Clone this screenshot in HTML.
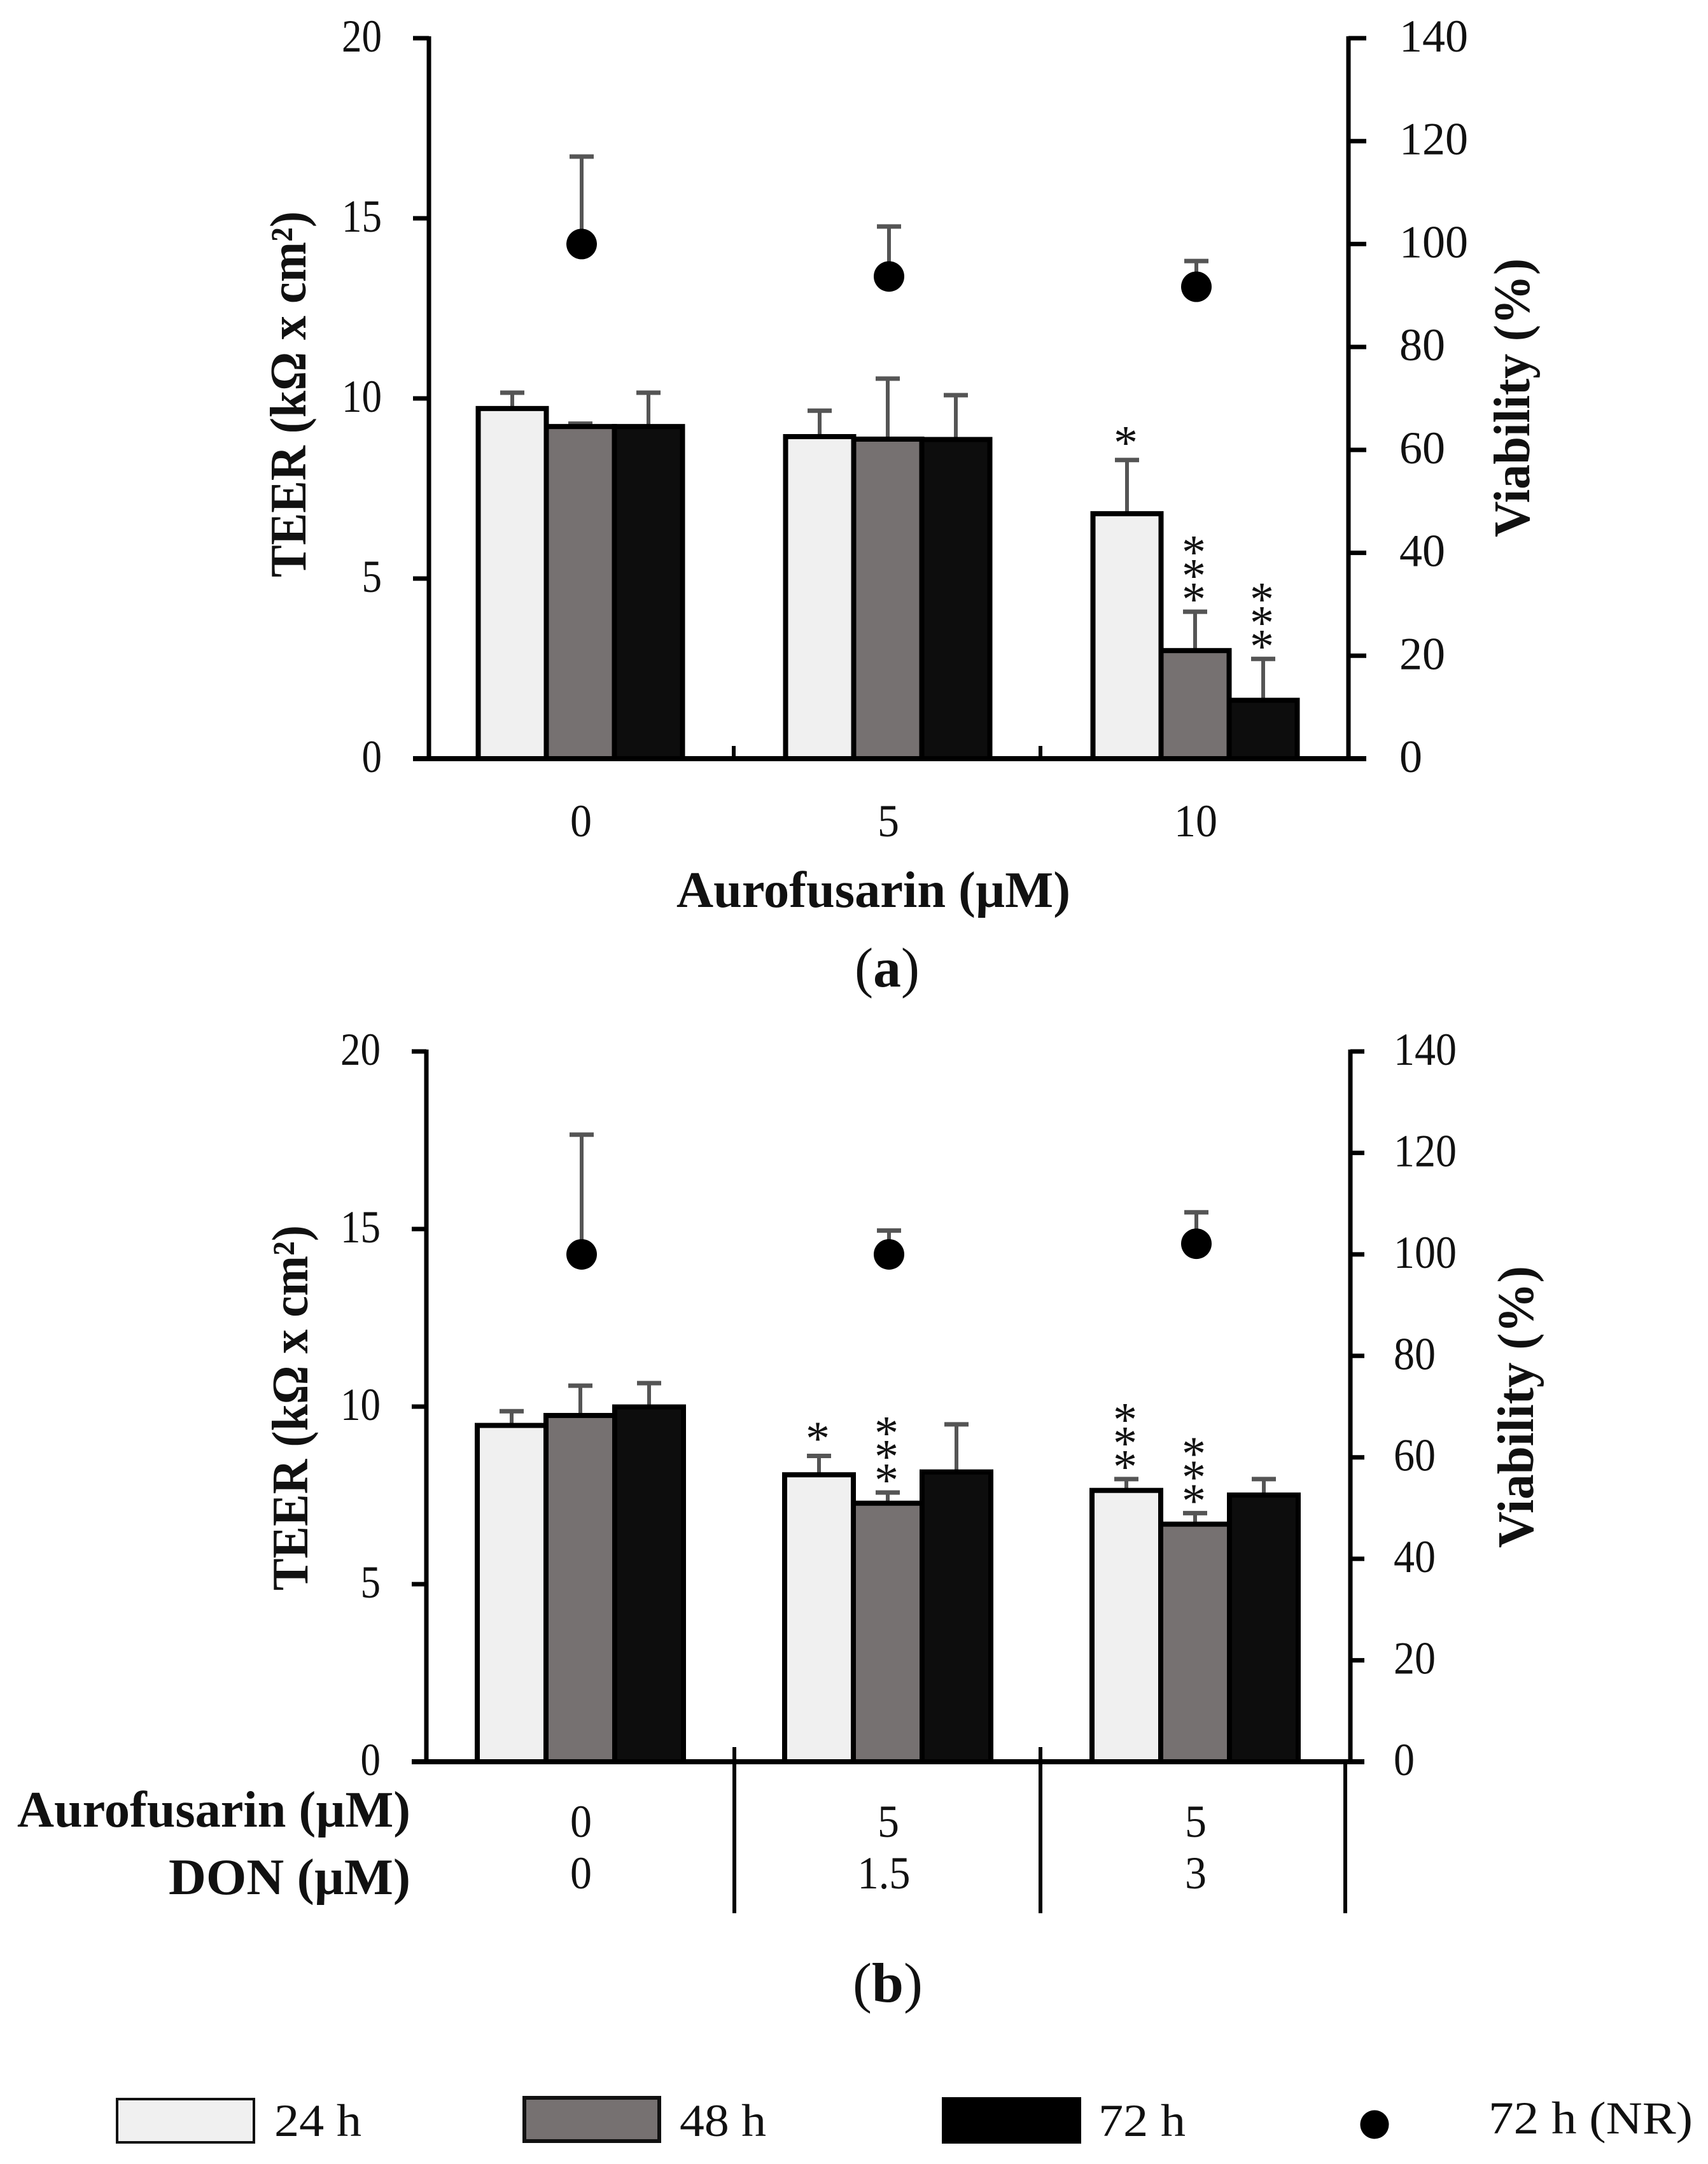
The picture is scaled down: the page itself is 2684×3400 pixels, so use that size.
<!DOCTYPE html>
<html lang="en">
<head>
<meta charset="utf-8">
<title>TEER and viability charts</title>
<style>
html,body{margin:0;padding:0;background:#fff;width:2684px;height:3400px;overflow:hidden}
svg{display:block}
text{font-family:"Liberation Serif",serif;fill:#111}
.b{font-weight:bold}
</style>
</head>
<body>
<svg id="chart" xmlns="http://www.w3.org/2000/svg" width="2684" height="3400" viewBox="0 0 2684 3400">
  <rect width="2684" height="3400" fill="#fff"/>
  <text class="b" x="1063" y="1425" font-size="80" textLength="619" lengthAdjust="spacingAndGlyphs">Aurofusarin (µM)</text>
  <text x="1343" y="1550" font-size="88" textLength="102" lengthAdjust="spacingAndGlyphs">(<tspan class="b">a</tspan>)</text>
  <text class="b" x="480" y="907" font-size="80" transform="rotate(-90 480 907)" textLength="575" lengthAdjust="spacingAndGlyphs">TEER (kΩ x cm²)</text>
  <text class="b" x="2403" y="844" font-size="80" transform="rotate(-90 2403 844)" textLength="438" lengthAdjust="spacingAndGlyphs">Viability (%)</text>
  <text class="b" x="27" y="2870" font-size="80" textLength="618" lengthAdjust="spacingAndGlyphs">Aurofusarin (µM)</text>
  <text class="b" x="265" y="2976" font-size="80" textLength="380" lengthAdjust="spacingAndGlyphs">DON (µM)</text>
  <text x="1340" y="3145" font-size="88" textLength="110" lengthAdjust="spacingAndGlyphs">(<tspan class="b">b</tspan>)</text>
  <text class="b" x="483" y="2499" font-size="80" transform="rotate(-90 483 2499)" textLength="574" lengthAdjust="spacingAndGlyphs">TEER (kΩ x cm²)</text>
  <text class="b" x="2409" y="2432" font-size="80" transform="rotate(-90 2409 2432)" textLength="443" lengthAdjust="spacingAndGlyphs">Viability (%)</text>
  <g>
    <rect x="184" y="3298" width="215" height="68" fill="#f0f0f0" stroke="#111" stroke-width="4"/>
    <text x="431" y="3356" font-size="72" textLength="137" lengthAdjust="spacingAndGlyphs">24 h</text>
    <rect x="824" y="3296" width="212" height="68" fill="#767171" stroke="#111" stroke-width="6"/>
    <text x="1068" y="3356" font-size="72" textLength="136" lengthAdjust="spacingAndGlyphs">48 h</text>
    <rect x="1480" y="3295" width="219" height="73" fill="#000"/>
    <text x="1726" y="3356" font-size="72" textLength="137" lengthAdjust="spacingAndGlyphs">72 h</text>
    <circle cx="2160" cy="3338" r="22.5" fill="#000"/>
    <text x="2339" y="3352" font-size="72" textLength="321" lengthAdjust="spacingAndGlyphs">72 h (NR)</text>
  </g>
</svg>
<script>
// Axis ticks
const teerTicks = [0, 5, 10, 15, 20];
const viabilityTicks = [0, 20, 40, 60, 80, 100, 120, 140];

// Panel (a): categories and series
const aCategories = ['0', '5', '10'];
const aTeer24 = [9.72, 8.94, 6.8];
const aTeer48 = [9.22, 8.87, 3.0];
const aTeer72 = [9.22, 8.86, 1.62];
const aErr24 = [0.44, 0.72, 1.49];
const aErr48 = [0.08, 1.68, 1.08];
const aErr72 = [0.94, 1.23, 1.15];
const aViability = [100, 93.7, 91.7];
const aViabilityErr = [17, 9.7, 5];
const aStars24 = [0, 0, 1];
const aStars48 = [0, 0, 3];
const aStars72 = [0, 0, 3];

// Panel (b): categories and series
const bAurofusarin = ['0', '5', '5'];
const bDon = ['0', '1.5', '3'];
const bTeer24 = [9.47, 8.08, 7.64];
const bTeer48 = [9.75, 7.28, 6.69];
const bTeer72 = [9.99, 8.16, 7.51];
const bErr24 = [0.4, 0.53, 0.32];
const bErr48 = [0.84, 0.3, 0.31];
const bErr72 = [0.67, 1.34, 0.45];
const bViability = [100, 100, 102.1];
const bViabilityErr = [23.6, 4.7, 6.2];
const bStars24 = [0, 1, 3];
const bStars48 = [0, 3, 3];
const bStars72 = [0, 0, 0];

const NS = 'http://www.w3.org/2000/svg';
const svg = document.getElementById('chart');
const fills = ['#f0f0f0', '#767171', '#0d0d0d'];
const seriesNames = ['24h', '48h', '72h'];

function make(tag, attrs, parent) {
  const node = document.createElementNS(NS, tag);
  for (const k in attrs) node.setAttribute(k, attrs[k]);
  parent.appendChild(node);
  return node;
}

function drawPanel(p) {
  const g = make('g', {}, svg);
  
  

  const yL = v => p.y0 + (p.y20 - p.y0) * v / 20;
  const yR = v => p.y0 + (p.y20 - p.y0) * v / 140;
  const xC = i => p.x0 + p.step * i;
  const xBar = (i, s) => xC(i) + (s - 1) * p.barW;

  // error bars behind the bars
  p.teer.forEach((vals, s) => {
    vals.forEach((v, i) => {
      const x = xBar(i, s);
      const top = yL(v + p.err[s][i]);
      const stem = make('line', {x1: x, x2: x, y1: yL(v), y2: top, stroke: '#555', 'stroke-width': 6}, g);
      
      
      const cap = make('line', {x1: x - 19, x2: x + 19, y1: top, y2: top, stroke: '#555', 'stroke-width': 7}, g);
      
      
      const count = p.stars[s][i];
      const gap = count === 1 ? 38 : 30;
      for (let k = 0; k < count; k++) {
        const star = make('text', {x: x - 2, y: top - gap - k * 37 + 36, 'font-size': 76, 'text-anchor': 'middle'}, g);
        
        
        star.textContent = '*';
      }
    });
  });

  // bars
  p.teer.forEach((vals, s) => {
    vals.forEach((v, i) => {
      const bar = make('rect', {
        x: xBar(i, s) - p.barW / 2, y: yL(v), width: p.barW, height: yL(0) - yL(v),
        fill: fills[s], stroke: '#000', 'stroke-width': 8
      }, g);
      
      
    });
  });

  // viability points
  p.viability.forEach((v, i) => {
    const x = xC(i) + 2;
    const top = yR(v + p.viabilityErr[i]);
    const stem = make('line', {x1: x, x2: x, y1: yR(v), y2: top, stroke: '#555', 'stroke-width': 6}, g);
    
    
    const cap = make('line', {x1: x - 19, x2: x + 19, y1: top, y2: top, stroke: '#555', 'stroke-width': 7}, g);
    
    
    const dot = make('circle', {cx: x, cy: yR(v), r: 24, fill: '#000'}, g);
    
    
  });

  // axes
  const axL = make('line', {x1: p.xL, x2: p.xL, y1: p.y20 - 3, y2: p.y0, stroke: '#000', 'stroke-width': 7}, g);
  
  
  const axR = make('line', {x1: p.xR, x2: p.xR, y1: p.y20 - 3, y2: p.y0, stroke: '#000', 'stroke-width': 7}, g);
  
  
  const axB = make('line', {x1: p.xL - p.tickL, x2: p.xR + p.tickR, y1: p.y0, y2: p.y0, stroke: '#000', 'stroke-width': 8}, g);
  
  

  teerTicks.forEach(t => {
    const y = yL(t);
    const tick = make('line', {x1: p.xL - p.tickL, x2: p.xL, y1: y, y2: y, stroke: '#000', 'stroke-width': 7}, g);
    
    
    const label = make('text', {
      x: p.labelL, y: y + 21, 'font-size': 72, 'text-anchor': 'end',
      textLength: String(t).length * 31.5, lengthAdjust: 'spacingAndGlyphs'
    }, g);
    
    
    label.textContent = t;
  });

  viabilityTicks.forEach(t => {
    const y = yR(t);
    const tick = make('line', {x1: p.xR, x2: p.xR + p.tickR, y1: y, y2: y, stroke: '#000', 'stroke-width': 7}, g);
    
    
    const label = make('text', {
      x: p.labelR, y: y + 21, 'font-size': 72,
      textLength: String(t).length * p.digitR, lengthAdjust: 'spacingAndGlyphs'
    }, g);
    
    
    label.textContent = t;
  });

  // category labels
  p.rows.forEach((row, r) => {
    row.labels.forEach((txt, i) => {
      const digits = txt.replace('.', '').length;
      const dots = txt.length - digits;
      const label = make('text', {
        x: xC(i) + 1 - dots * 7, y: row.y, 'font-size': 72, 'text-anchor': 'middle',
        textLength: digits * 34 + dots * 15, lengthAdjust: 'spacingAndGlyphs'
      }, g);
      
      
      label.textContent = txt;
    });
  });

  // group separators
  p.separators.forEach((s, i) => {
    const sep = make('line', {x1: s[0], x2: s[0], y1: s[1], y2: s[2], stroke: '#000', 'stroke-width': 6}, g);
    
    
  });
}

drawPanel({
  id: 'a', y0: 1192, y20: 60, xL: 674, xR: 2119, tickL: 25, tickR: 28,
  x0: 912, step: 483, barW: 107, labelL: 600, labelR: 2199, digitR: 36,
  teer: [aTeer24, aTeer48, aTeer72], err: [aErr24, aErr48, aErr72],
  stars: [aStars24, aStars48, aStars72],
  viability: aViability, viabilityErr: aViabilityErr,
  rows: [{labels: aCategories, y: 1314}],
  separators: [[1153, 1172, 1192], [1635, 1172, 1192]]
});

drawPanel({
  id: 'b', y0: 2768, y20: 1652, xL: 670, xR: 2122, tickL: 23, tickR: 22,
  x0: 912, step: 483, barW: 108, labelL: 598, labelR: 2190, digitR: 33,
  teer: [bTeer24, bTeer48, bTeer72], err: [bErr24, bErr48, bErr72],
  stars: [bStars24, bStars48, bStars72],
  viability: bViability, viabilityErr: bViabilityErr,
  rows: [{labels: bAurofusarin, y: 2886}, {labels: bDon, y: 2967}],
  separators: [[1154, 2745, 3006], [1635, 2745, 3006], [2114, 2768, 3006]]
});
</script>
</body>
</html>
